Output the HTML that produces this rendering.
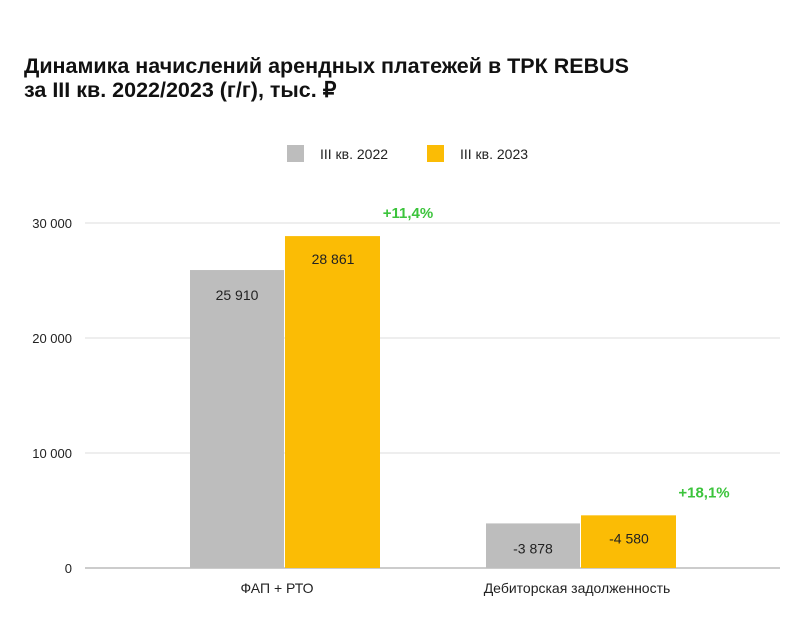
<!DOCTYPE html>
<html><head><meta charset="utf-8"><style>
body{margin:0;background:#fff;width:800px;height:620px;overflow:hidden;font-family:"Liberation Sans",sans-serif}
</style></head><body>
<svg id="c" width="800" height="620" xmlns="http://www.w3.org/2000/svg">
<text x="24" y="73" font-size="21.5" font-weight="bold" fill="#111">Динамика начислений арендных платежей в ТРК REBUS</text>
<text x="24" y="97" font-size="21.5" font-weight="bold" fill="#111">за III кв. 2022/2023 (г/г), тыс. ₽</text>
<g>
<rect x="287" y="145" width="17" height="17" fill="#bdbdbd"/>
<text x="320" y="159" font-size="14" fill="#222">III кв. 2022</text>
<rect x="427" y="145" width="17" height="17" fill="#fbbc05"/>
<text x="460" y="159" font-size="14" fill="#222">III кв. 2023</text>
</g>
<g id="g"></g>
</svg>
<script>
const categories=["ФАП + РТО","Дебиторская задолженность"];
const values2022=[25910,3878];
const values2023=[28861,4580];
const labels2022=["25 910","-3 878"];
const labels2023=["28 861","-4 580"];
const changes=["+11,4%","+18,1%"];
const ticks=[0,10000,20000,30000];
const tickLabels=["0","10 000","20 000","30 000"];
const NS="http://www.w3.org/2000/svg",g=document.getElementById('g');
const y=v=>568-v*0.01150;
const cx=i=>285+i*296;
function mk(t,a,txt){const e=document.createElementNS(NS,t);for(const k in a)e.setAttribute(k,a[k]);if(txt!=null)e.textContent=txt;g.appendChild(e);return e;}
ticks.forEach((t,i)=>{
 const l=mk('line',{x1:85,x2:780,y1:y(t),y2:y(t),stroke:i==0?'#999':'#ddd','stroke-width':1});
 
 
 const tx=mk('text',{x:72,y:y(t)+5,'font-size':13,fill:'#222','text-anchor':'end'},tickLabels[i]);
 
 
});
categories.forEach((c,i)=>{
 const x=cx(i);
 const b1=mk('rect',{x:x-95,y:y(values2022[i]),width:94,height:568-y(values2022[i]),fill:'#bdbdbd'});
 
 
 const b2=mk('rect',{x:x,y:y(values2023[i]),width:95,height:568-y(values2023[i]),fill:'#fbbc05'});
 
 
 const t1=mk('text',{x:x-48,y:y(values2022[i])+30,'font-size':14,fill:'#222','text-anchor':'middle'},labels2022[i]);
 
 
 const t2=mk('text',{x:x+48,y:y(values2023[i])+28,'font-size':14,fill:'#222','text-anchor':'middle'},labels2023[i]);
 
 
 const p=mk('text',{x:x+123,y:y(values2023[i])-18,'font-size':15,'font-weight':'bold',fill:'#3cc43c','text-anchor':'middle'},changes[i]);
 
 
 const cl=mk('text',{x:x-8+i*4,y:593,'font-size':14,fill:'#222','text-anchor':'middle'},c);
 
 
});
</script>
</body></html>
